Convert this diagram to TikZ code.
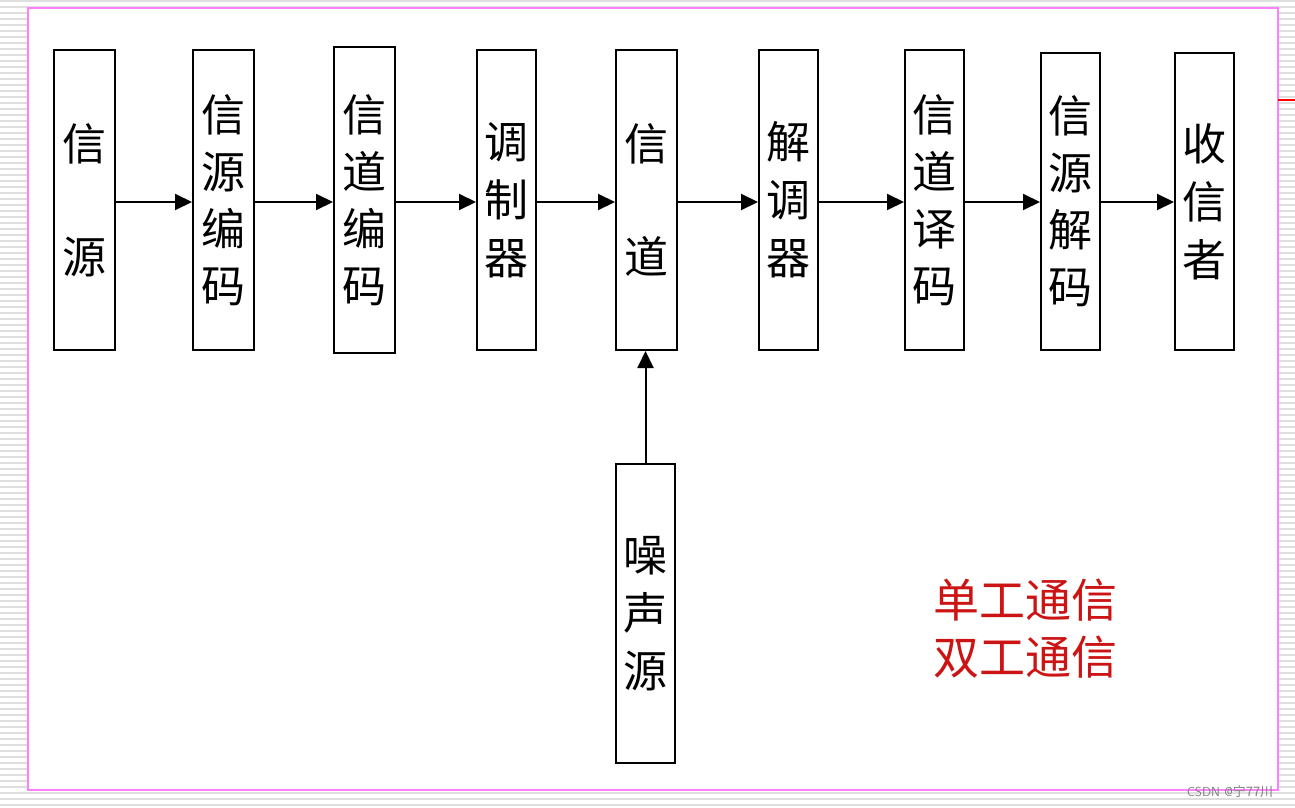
\documentclass[tikz,border=0pt]{standalone}
\usepackage{fontspec}
\newfontfamily\cjk{Noto Sans CJK SC}
\usepackage{tikz}
\usetikzlibrary{arrows.meta,positioning}

\definecolor{stripe}{RGB}{222,222,222}
\definecolor{frame}{RGB}{255,128,255}
\definecolor{redtxt}{RGB}{204,20,20}

\tikzset{
  blk/.style={draw,line width=2pt,minimum width=61pt,minimum height=300pt,
    inner sep=0pt,align=center,font=\cjk\fontsize{44}{57}\selectfont},
  wide/.style={font=\cjk\fontsize{44}{113}\selectfont},
  mid/.style={font=\cjk\fontsize{44}{58}\selectfont},
  note/.style={text=redtxt,font=\cjk\fontsize{46}{57}\selectfont},
}

\begin{document}
\begin{tikzpicture}[x=1pt,y=-1pt]
  \useasboundingbox (0,0) rectangle (1295,808);
  % striped page behind the slide
  \foreach \y in {1,7,...,808}
    \draw[stripe,line width=2pt] (0,\y) -- (1295,\y);
  \fill[white] (28,8) rectangle (1278,790);
  \draw[frame,line width=2.5pt] (28,8) rectangle (1278,790);
  \draw[red,line width=1.5pt] (1278,100) -- (1295,100);

  % chain of blocks
  \node[blk,wide] (src) at (84.5,200) {信\\源};
  \node[blk] (senc) at (223.5,200) {信\\源\\编\\码};
  \node[blk,minimum height=306pt] (cenc) at (364.5,200) {信\\道\\编\\码};
  \node[blk,mid,minimum width=59pt] (mod) at (506.5,200) {调\\制\\器};
  \node[blk,wide] (chan) at (646.5,200) {信\\道};
  \node[blk,mid,minimum width=59pt] (demod) at (788.5,200) {解\\调\\器};
  \node[blk,minimum width=59pt] (cdec) at (934.5,200) {信\\道\\译\\码};
  \node[blk,minimum width=59pt,minimum height=297pt] (sdec) at (1070.5,201.5) {信\\源\\解\\码};
  \node[blk,mid,minimum width=59pt,minimum height=297pt] (dst) at (1204.5,201.5) {收\\信\\者};
  \node[blk,mid,minimum width=59pt,minimum height=299pt] (noise) at (645.5,613.5) {噪\\声\\源};

  \coordinate (lvl) at (0,202);
  \begin{scope}[line width=2pt,->,>={Triangle[length=17pt,width=16pt]}]
    \draw (src.east |- lvl) -- (senc.west |- lvl);
    \draw (senc.east |- lvl) -- (cenc.west |- lvl);
    \draw (cenc.east |- lvl) -- (mod.west |- lvl);
    \draw (mod.east |- lvl) -- (chan.west |- lvl);
    \draw (chan.east |- lvl) -- (demod.west |- lvl);
    \draw (demod.east |- lvl) -- (cdec.west |- lvl);
    \draw (cdec.east |- lvl) -- (sdec.west |- lvl);
    \draw (sdec.east |- lvl) -- (dst.west |- lvl);
    \draw (noise.north) -- (noise.north |- chan.south);
  \end{scope}

  \node[note] (simplex) at (1025,600) {单工通信};
  \node[note] (duplex) at (1025,657) {双工通信};
  \node[text=gray,font=\sffamily\fontsize{13}{15}\selectfont] (mark) at (1230,792) {CSDN @\cjk 宁77川};
\end{tikzpicture}
\end{document}
